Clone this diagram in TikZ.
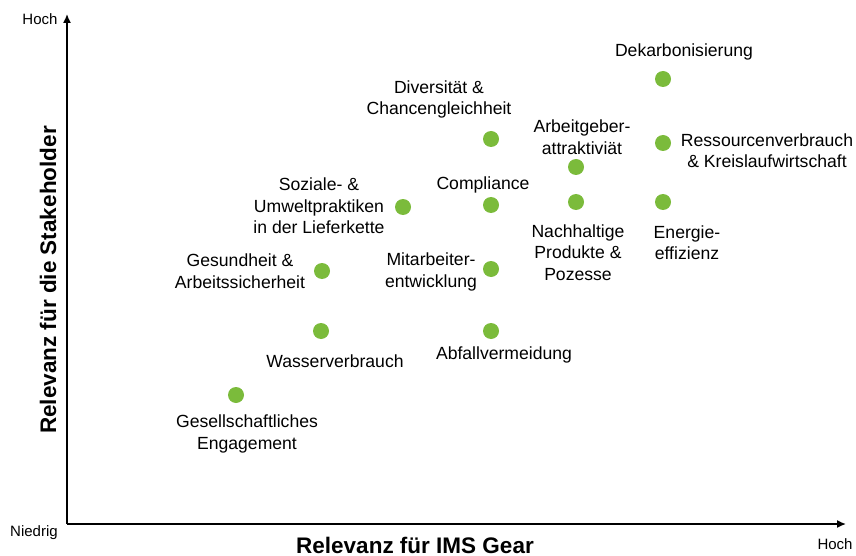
\documentclass[tikz,border=0pt]{standalone}
\usepackage{fontspec}
\setmainfont{Liberation Sans}
\usetikzlibrary{calc}
\usetikzlibrary{arrows.meta}
\definecolor{dotgreen}{HTML}{7BBB3B}

\begin{document}
\begin{tikzpicture}[x=1pt,y=-1pt,
    dot/.style={circle, fill=dotgreen, minimum size=16pt, inner sep=0pt},
    lbl/.style={align=center, inner sep=0pt, font=\fontsize{17.6}{21.5}\selectfont},
    ends/.style={inner sep=0pt, font=\fontsize{15}{18}\selectfont},
    axlbl/.style={inner sep=0pt, font=\bfseries\fontsize{22.5}{27}\selectfont}]
    \useasboundingbox (0,0) rectangle (856,556);
    \coordinate (O) at (67,524);
    \coordinate (ytip) at (67,14);
    \coordinate (xtip) at (846,524);
    \draw[line width=1.5pt, -{Latex[length=9pt,width=8pt]}] (O) -- (ytip);
    \draw[line width=1.5pt, -{Latex[length=9pt,width=8pt]}] (O) -- (xtip);
    \node[ends] (yhigh) at (40,19) {Hoch};
    \node[ends] (low) at (34,533) {Niedrig};
    \node[ends] (xhigh) at (835,544) {Hoch};
    \node[axlbl, rotate=90] (ylabel) at (48,280) {Relevanz für die Stakeholder};
    \node[axlbl] (xlabel) at (415,545) {Relevanz für IMS Gear};
    % topics
    \foreach \name/\x/\y in {dek/663/79, res/663/143, ene/663/202, arb/576/167, nach/576/202,
        div/491/139, com/491/205, mit/491/269, abf/491/331, soz/403/207,
        ges/322/271, was/321/331, gsl/236/395}
        \node[dot] (\name) at (\x,\y) {};
    \node[lbl] (deklbl) at (684,52) {Dekarbonisierung};
    \node[lbl] (reslbl) at (767,150.5) {Ressourcenverbrauch\\\& Kreislaufwirtschaft};
    \node[lbl] (enelbl) at (687,242.5) {Energie-\\effizienz};
    \node[lbl] (arblbl) at (582,137) {Arbeitgeber-\\attraktiviät};
    \node[lbl] (nachlbl) at (578,252.5) {Nachhaltige\\Produkte \&\\Pozesse};
    \node[lbl] (divlbl) at (439,99.5) {Diversität \&\\Chancengleichheit};
    \node[lbl] (comlbl) at (483,185) {Compliance};
    \node[lbl] (mitlbl) at (431,272) {Mitarbeiter-\\entwicklung};
    \node[lbl] (abflbl) at (504,355) {Abfallvermeidung};
    \node[lbl] (sozlbl) at (319,206) {Soziale- \&\\Umweltpraktiken\\in der Lieferkette};
    \node[lbl] (geslbl) at (240,271) {Gesundheit \&\\Arbeitssicherheit};
    \node[lbl] (waslbl) at (335,361) {Wasserverbrauch};
    \node[lbl] (gsllbl) at (247,434) {Gesellschaftliches\\Engagement};
\end{tikzpicture}
\end{document}
